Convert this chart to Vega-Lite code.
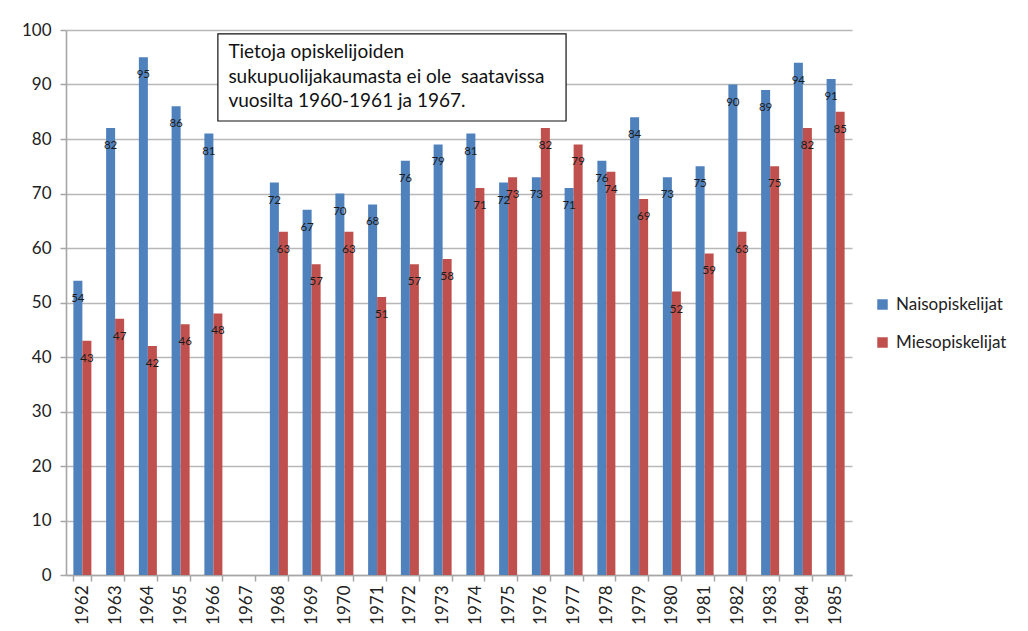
{
  "$schema": "https://vega.github.io/schema/vega-lite/v6.json",
  "width": 786,
  "height": 545,
  "autosize": "none",
  "padding": {"left": 66, "top": 30, "right": 176, "bottom": 56},
  "background": "white",
  "config": {
    "font": "Lato",
    "view": {"stroke": null},
    "axis": {"labelFont": "Lato", "labelColor": "#222222", "domainColor": "#a6a6a6", "tickColor": "#a6a6a6", "gridColor": "#b8b8b8", "gridWidth": 1.6, "domainWidth": 1.6, "tickWidth": 1.5}
  },
  "datasets": {
    "students": [
      {"year": "1962", "group": "Naisopiskelijat", "value": 54},
      {"year": "1962", "group": "Miesopiskelijat", "value": 43},
      {"year": "1963", "group": "Naisopiskelijat", "value": 82},
      {"year": "1963", "group": "Miesopiskelijat", "value": 47},
      {"year": "1964", "group": "Naisopiskelijat", "value": 95},
      {"year": "1964", "group": "Miesopiskelijat", "value": 42},
      {"year": "1965", "group": "Naisopiskelijat", "value": 86},
      {"year": "1965", "group": "Miesopiskelijat", "value": 46},
      {"year": "1966", "group": "Naisopiskelijat", "value": 81},
      {"year": "1966", "group": "Miesopiskelijat", "value": 48},
      {"year": "1968", "group": "Naisopiskelijat", "value": 72},
      {"year": "1968", "group": "Miesopiskelijat", "value": 63},
      {"year": "1969", "group": "Naisopiskelijat", "value": 67},
      {"year": "1969", "group": "Miesopiskelijat", "value": 57},
      {"year": "1970", "group": "Naisopiskelijat", "value": 70},
      {"year": "1970", "group": "Miesopiskelijat", "value": 63},
      {"year": "1971", "group": "Naisopiskelijat", "value": 68},
      {"year": "1971", "group": "Miesopiskelijat", "value": 51},
      {"year": "1972", "group": "Naisopiskelijat", "value": 76},
      {"year": "1972", "group": "Miesopiskelijat", "value": 57},
      {"year": "1973", "group": "Naisopiskelijat", "value": 79},
      {"year": "1973", "group": "Miesopiskelijat", "value": 58},
      {"year": "1974", "group": "Naisopiskelijat", "value": 81},
      {"year": "1974", "group": "Miesopiskelijat", "value": 71},
      {"year": "1975", "group": "Naisopiskelijat", "value": 72},
      {"year": "1975", "group": "Miesopiskelijat", "value": 73},
      {"year": "1976", "group": "Naisopiskelijat", "value": 73},
      {"year": "1976", "group": "Miesopiskelijat", "value": 82},
      {"year": "1977", "group": "Naisopiskelijat", "value": 71},
      {"year": "1977", "group": "Miesopiskelijat", "value": 79},
      {"year": "1978", "group": "Naisopiskelijat", "value": 76},
      {"year": "1978", "group": "Miesopiskelijat", "value": 74},
      {"year": "1979", "group": "Naisopiskelijat", "value": 84},
      {"year": "1979", "group": "Miesopiskelijat", "value": 69},
      {"year": "1980", "group": "Naisopiskelijat", "value": 73},
      {"year": "1980", "group": "Miesopiskelijat", "value": 52},
      {"year": "1981", "group": "Naisopiskelijat", "value": 75},
      {"year": "1981", "group": "Miesopiskelijat", "value": 59},
      {"year": "1982", "group": "Naisopiskelijat", "value": 90},
      {"year": "1982", "group": "Miesopiskelijat", "value": 63},
      {"year": "1983", "group": "Naisopiskelijat", "value": 89},
      {"year": "1983", "group": "Miesopiskelijat", "value": 75},
      {"year": "1984", "group": "Naisopiskelijat", "value": 94},
      {"year": "1984", "group": "Miesopiskelijat", "value": 82},
      {"year": "1985", "group": "Naisopiskelijat", "value": 91},
      {"year": "1985", "group": "Miesopiskelijat", "value": 85}
    ],
    "notebox": [
      {"year": "1966", "year2": "1977", "top": 99.3, "bottom": 83.3}
    ],
    "notetext": [
      {"year": "1966", "value": 96.0, "line": "Tietoja opiskelijoiden"},
      {"year": "1966", "value": 91.4, "line": "sukupuolijakaumasta ei ole\u00a0 saatavissa"},
      {"year": "1966", "value": 87.0, "line": "vuosilta 1960-1961 ja 1967."}
    ]
  },
  "layer": [
    {
      "data": {"name": "students"},
      "mark": {"type": "bar"},
      "encoding": {
        "x": {
          "field": "year", "type": "ordinal", "title": null,
          "scale": {"domain": ["1962","1963","1964","1965","1966","1967","1968","1969","1970","1971","1972","1973","1974","1975","1976","1977","1978","1979","1980","1981","1982","1983","1984","1985"], "paddingInner": 0.45, "paddingOuter": 0.225},
          "axis": {"labelAngle": -90, "labelFontSize": 17, "tickBand": "extent", "tickSize": 6, "labelPadding": 4, "grid": false}
        },
        "xOffset": {"field": "group", "type": "nominal", "scale": {"domain": ["Naisopiskelijat", "Miesopiskelijat"], "paddingInner": 0}},
        "y": {
          "field": "value", "type": "quantitative", "title": null,
          "scale": {"domain": [0, 100], "nice": false},
          "axis": {"values": [0,10,20,30,40,50,60,70,80,90,100], "labelFontSize": 17, "tickSize": 6, "labelPadding": 9, "grid": true}
        },
        "color": {
          "field": "group", "type": "nominal",
          "scale": {"domain": ["Naisopiskelijat", "Miesopiskelijat"], "range": ["#4f81bd", "#c0504d"]},
          "legend": {"title": null, "orient": "none", "legendX": 808, "legendY": 266, "symbolType": "square", "symbolSize": 110, "symbolStrokeWidth": 0, "labelFontSize": 17, "labelColor": "#222222", "rowPadding": 20, "labelOffset": 5}
        }
      }
    },
    {
      "data": {"name": "students"},
      "mark": {"type": "text", "baseline": "middle", "align": "center", "dy": 18, "fontSize": 11.5, "color": "#1a1a1a"},
      "encoding": {
        "x": {"field": "year", "type": "ordinal"},
        "xOffset": {"field": "group", "type": "nominal"},
        "y": {"field": "value", "type": "quantitative"},
        "text": {"field": "value", "type": "quantitative"}
      }
    },
    {
      "data": {"name": "notebox"},
      "mark": {"type": "rect", "fill": "white", "stroke": "#111111", "strokeWidth": 1.2},
      "encoding": {
        "x": {"field": "year", "type": "ordinal", "bandPosition": 0.75},
        "x2": {"field": "year2", "bandPosition": 0.08},
        "y": {"field": "top", "type": "quantitative"},
        "y2": {"field": "bottom"}
      }
    },
    {
      "data": {"name": "notetext"},
      "mark": {"type": "text", "align": "left", "baseline": "middle", "fontSize": 19, "dx": 6, "color": "#111111"},
      "encoding": {
        "x": {"field": "year", "type": "ordinal", "bandPosition": 1},
        "y": {"field": "value", "type": "quantitative"},
        "text": {"field": "line", "type": "nominal"}
      }
    }
  ]
}
